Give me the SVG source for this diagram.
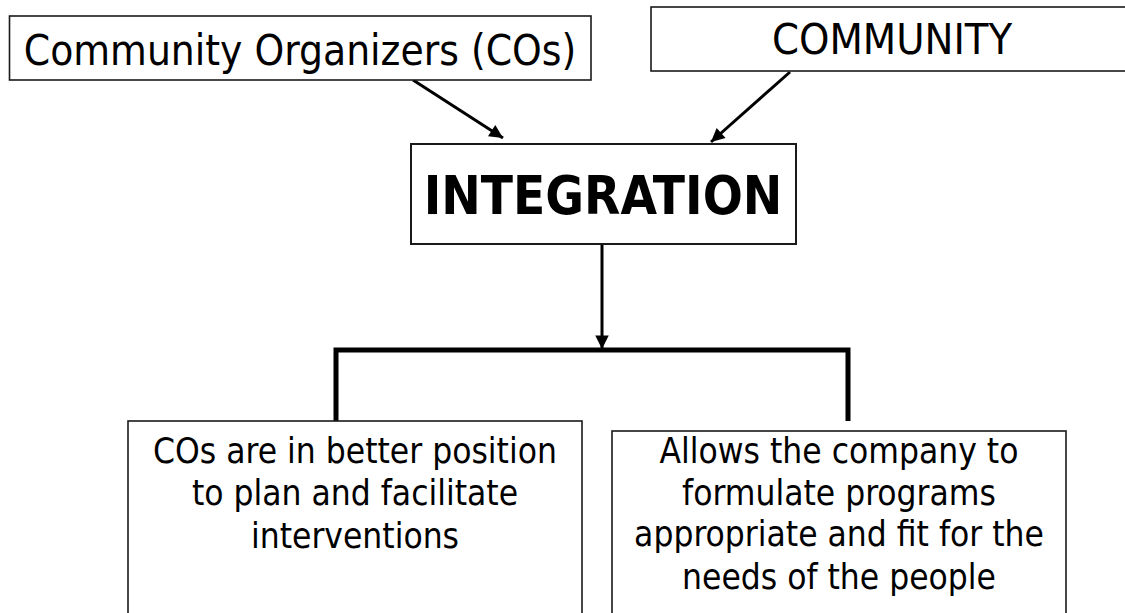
<svg xmlns="http://www.w3.org/2000/svg" width="1125" height="613" viewBox="0 0 1125 613">
<style>
.box{fill:#fff;stroke:#1a1a1a;stroke-width:1.6}
.t{font-family:"DejaVu Sans Condensed","DejaVu Sans",sans-serif;fill:#000;text-anchor:middle}
.big{font-size:42px}
.big2{font-size:43px}
.body{font-size:35px}
.bold{font-size:52.5px;font-weight:bold}
.con{fill:none;stroke:#000;stroke-width:3}
.bar{fill:none;stroke:#000;stroke-width:5}
</style>
<defs>
<marker id="ah" viewBox="0 0 10 10" refX="10" refY="5" markerWidth="5" markerHeight="4.5" markerUnits="strokeWidth" orient="auto">
<path d="M0,0 L10,5 L0,10 z" fill="#000"/>
</marker>
</defs>
<rect width="1125" height="613" fill="#fff"/>
<g id="connectors">
<line class="con" x1="413" y1="80" x2="503" y2="138" marker-end="url(#ah)"/>
<line class="con" x1="790" y1="72" x2="711" y2="142" marker-end="url(#ah)"/>
<line class="con" x1="602" y1="244" x2="602" y2="349" marker-end="url(#ah)"/>
<polyline class="bar" points="336,422 336,350 848,350 848,421"/>
</g>
<g id="node-cos">
<rect class="box" x="9.5" y="16" width="581.5" height="64"/>
<text class="t big" x="300" y="65">Community Organizers (COs)</text>
</g>
<g id="node-community">
<rect class="box" x="651" y="7" width="480" height="64"/>
<text class="t big2" x="892" y="54">COMMUNITY</text>
</g>
<g id="node-integration">
<rect class="box" x="411" y="144" width="385" height="100" style="stroke-width:2"/>
<text class="t bold" x="603" y="214">INTEGRATION</text>
</g>
<g id="node-cos-position">
<rect class="box" x="128" y="421" width="454" height="200"/>
<text class="t body" x="355" y="463">COs are in better position</text>
<text class="t body" x="355" y="505">to plan and facilitate</text>
<text class="t body" x="355" y="548">interventions</text>
</g>
<g id="node-company">
<rect class="box" x="612" y="431" width="454" height="200"/>
<text class="t body" x="839" y="463">Allows the company to</text>
<text class="t body" x="839" y="505">formulate programs</text>
<text class="t body" x="839" y="546">appropriate and fit for the</text>
<text class="t body" x="839" y="589">needs of the people</text>
</g>
</svg>
